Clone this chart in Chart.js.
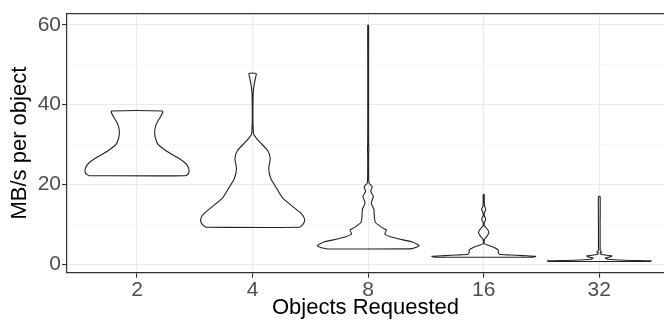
<!DOCTYPE html>
<html>
<head>
<meta charset="utf-8">
<script src="https://cdn.jsdelivr.net/npm/chart.js@4"></script>
<style>
  body { margin: 0; background: #fff; overflow: hidden; }
  canvas { display: block; }
</style>
</head>
<body>
<canvas id="violinChart" width="664" height="322"></canvas>
<script>
// categories on the x axis
const categories = ['2', '4', '8', '16', '32'];
const positions = [1, 2, 3, 4, 5];
const yTicks = [0, 10, 20, 30, 40, 50, 60];

// violin outlines: value levels and relative half widths (1 = widest)
const obj2Y = [22.2, 22.8, 23.5, 24.2, 25.2, 26.5, 27.7, 28.9, 30.1, 31.8, 33.4, 35.1, 36.7, 37.9, 38.4];
const obj2W = [0.93, 0.99, 1.00, 0.99, 0.94, 0.81, 0.65, 0.51, 0.40, 0.35, 0.34, 0.37, 0.44, 0.49, 0.49];

const obj4Y = [9.3, 9.8, 10.5, 11.3, 12.5, 14.2, 16.6, 19.1, 21.5, 24.0, 26.5, 28.5, 30.6, 31.8, 32.6, 35, 38, 41, 43, 45, 46.8, 47.8];
const obj4W = [0.90, 0.95, 0.99, 1.00, 0.95, 0.80, 0.58, 0.46, 0.35, 0.31, 0.34, 0.29, 0.14, 0.06, 0.02, 0.008, 0.006, 0.008, 0.012, 0.03, 0.058, 0.07];

const obj8Y = [3.9, 4.2, 4.7, 5.6, 6.6, 7.6, 8.6, 9.2, 10.5, 11.7, 13.8, 15.4, 17.0, 18.3, 19.5, 20.3, 22.0, 27.5, 28.9, 30.3, 40.0, 50.0, 59.9];
const obj8W = [0.80, 0.90, 0.98, 0.85, 0.52, 0.32, 0.35, 0.27, 0.14, 0.12, 0.11, 0.06, 0.10, 0.05, 0.077, 0.02, 0.01, 0.009, 0.013, 0.009, 0.008, 0.008, 0.008];

const obj16Y = [1.8, 2.04, 2.2, 2.37, 2.55, 3.0, 3.6, 4.3, 5.2, 6.3, 7.2, 8.0, 8.8, 9.6, 10.4, 11.3, 12.2, 13.0, 13.8, 14.6, 16.0, 17.5];
const obj16W = [0.95, 1.0, 0.75, 0.5, 0.3, 0.28, 0.28, 0.19, 0.012, 0.015, 0.07, 0.10, 0.07, 0.015, 0.01, 0.04, 0.01, 0.015, 0.04, 0.015, 0.01, 0.01];

const obj32Y = [0.75, 0.9, 1.05, 1.3, 1.6, 1.9, 2.15, 2.5, 2.85, 3.1, 3.4, 3.7, 5, 10, 17.0];
const obj32W = [0.98, 1.0, 0.5, 0.15, 0.12, 0.22, 0.24, 0.04, 0.018, 0.05, 0.022, 0.016, 0.016, 0.016, 0.016];

const violinYs = [obj2Y, obj4Y, obj8Y, obj16Y, obj32Y];
const violinWs = [obj2W, obj4W, obj8W, obj16W, obj32W];
const halfWidth = 0.45;

function outline(pos, ys, ws) {
  const left = ys.map((y, i) => ({ x: pos - halfWidth * ws[i], y }));
  const right = ys.map((y, i) => ({ x: pos + halfWidth * ws[i], y })).reverse();
  return [...left, ...right, left[0]];
}

const datasets = positions.map((p, i) => ({
  data: outline(p, violinYs[i], violinWs[i]),
  borderColor: '#222',
  borderWidth: 1.1,
  pointRadius: 0,
  fill: false,
  tension: 0.2
}));

const panelTop = {
  id: 'panelTop',
  afterDraw(chart) {
    const { ctx, chartArea: a } = chart;
    ctx.save();
    ctx.strokeStyle = '#333';
    ctx.lineWidth = 1.2;
    ctx.beginPath();
    ctx.moveTo(a.left, a.top);
    ctx.lineTo(a.right, a.top);
    ctx.stroke();
    ctx.restore();
  }
};

const font = 'Liberation Sans, Arial, sans-serif';

new Chart(document.getElementById('violinChart').getContext('2d'), {
  type: 'line',
  data: { datasets },
  plugins: [panelTop],
  options: {
    responsive: false,
    devicePixelRatio: 1,
    animation: false,
    layout: { padding: { top: 9, right: 0, bottom: 0, left: 0 } },
    plugins: { legend: { display: false }, tooltip: { enabled: false } },
    scales: {
      x: {
        type: 'linear',
        min: 0.394,
        max: 5.56,
        afterBuildTicks: s => { s.ticks = positions.map(v => ({ value: v })); },
        afterFit: s => { s.height = 49.3; },
        ticks: {
          callback: (v, i) => categories[i],
          color: '#4D4D4D',
          font: { family: font, size: 21 },
          padding: 0,
          maxRotation: 0
        },
        grid: { color: '#EBEBEB', lineWidth: 1.1, tickColor: '#333', tickLength: 5 },
        border: { color: '#333', width: 1.2 },
        title: {
          display: true,
          text: 'Objects Requested',
          color: '#000',
          font: { family: font, size: 22 },
          padding: { top: 0, bottom: 1 }
        }
      },
      y: {
        min: -2.07,
        max: 62.78,
        afterBuildTicks: s => { s.ticks = yTicks.map(v => ({ value: v })); },
        afterFit: s => { s.width = 67; },
        ticks: {
          callback: v => (v % 20 === 0 ? v : ''),
          color: '#4D4D4D',
          font: { family: font, size: 21 },
          padding: 1
        },
        grid: {
          color: c => (c.tick && c.tick.value % 20 !== 0 ? '#F3F3F3' : '#EBEBEB'),
          lineWidth: c => (c.tick && c.tick.value % 20 !== 0 ? 0.7 : 1.1),
          tickColor: c => (c.tick && c.tick.value % 20 !== 0 ? 'rgba(0,0,0,0)' : '#333'),
          tickLength: 5
        },
        border: { color: '#333', width: 1.2 },
        title: {
          display: true,
          text: 'MB/s per object',
          color: '#000',
          font: { family: font, size: 22 },
          padding: { top: 7, bottom: 0 }
        }
      }
    }
  }
});
</script>
</body>
</html>
